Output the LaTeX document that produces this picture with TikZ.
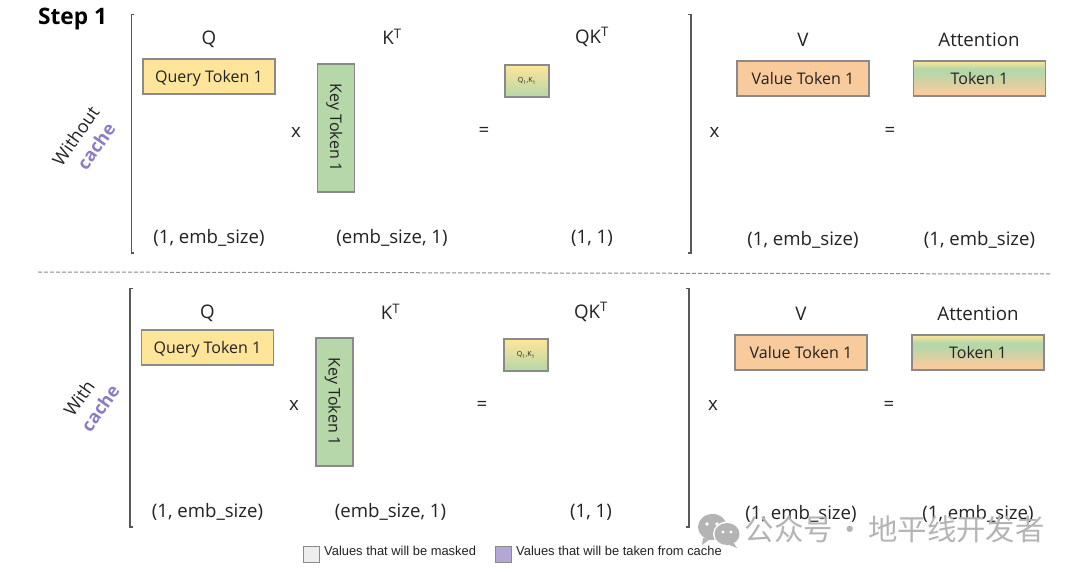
\documentclass[tikz,border=0pt]{standalone}
\usepackage{fontspec}
\setmainfont{Open Sans}
\newfontfamily\cjkwm{Noto Sans CJK SC}
\newfontfamily\legendfont{Liberation Sans}
\usetikzlibrary{calc}
\definecolor{qy}{HTML}{FFE599}
\definecolor{kg}{HTML}{B6D7A8}
\definecolor{vo}{HTML}{F9CB9C}
\definecolor{pur}{HTML}{8E7CC3}
\definecolor{lpur}{HTML}{B4A7D6}
\definecolor{edge}{HTML}{8A8A8A}
\definecolor{ink}{HTML}{222222}
\definecolor{brk}{HTML}{595959}
\definecolor{wm}{HTML}{B4B4B4}
\pgfdeclareverticalshading{qkshade}{100bp}{color(0bp)=(kg); color(25bp)=(kg); color(75bp)=(qy); color(100bp)=(qy)}
\pgfdeclareverticalshading{attshade}{100bp}{color(0bp)=(vo); color(30bp)=(vo); color(58bp)=(kg); color(64bp)=(kg); color(75bp)=(qy); color(100bp)=(qy)}
\tikzset{
  x=1pt,y=-1pt,
  lab/.style={font=\fontsize{18.7}{20}\selectfont,text=ink,inner sep=0pt,anchor=center},
  dim/.style={font=\fontsize{18.6}{21}\selectfont,text=ink,inner sep=0pt,anchor=center},
  op/.style={font=\fontsize{18.7}{20}\selectfont,text=ink,inner sep=0pt,anchor=center},
  tok/.style={draw=edge,line width=1.2pt,minimum width=132pt,minimum height=35pt,inner sep=0pt,font=\fontsize{16}{18}\selectfont,text=ink,anchor=center},
  evenline/.style={text height=12pt,text depth=0pt},
  keytok/.style={tok,evenline,fill=kg,rotate=-90,minimum width=128pt,minimum height=37pt},
  qk/.style={draw=edge,line width=1.2pt,minimum width=44pt,minimum height=32pt,inner sep=0pt,shading=qkshade,font=\fontsize{7}{8}\selectfont,text=ink,anchor=center},
  att/.style={tok,shading=attshade},
  brack/.style={draw=brk,line width=1.7pt},
  side/.style={font=\fontsize{18}{20}\selectfont,text=ink,rotate=55,inner sep=0pt,anchor=center},
  sidec/.style={side,text=pur,font=\fontsize{18}{20}\selectfont\bfseries},
  legbox/.style={draw=edge,line width=1pt,minimum width=16pt,minimum height=16pt,inner sep=0pt,anchor=center},
  legtxt/.style={font=\legendfont\fontsize{12.9}{14}\selectfont,text=ink,inner sep=0pt,anchor=west},
}
\begin{document}
\begin{tikzpicture}
\useasboundingbox (0,0) rectangle (1080,572);
\fill[white] (0,0) rectangle (1080,572);

\node[font=\fontsize{22.7}{25}\selectfont\bfseries,text=black,inner sep=0pt] (step) at (72.5,19) {Step 1};

% Without cache
\node[side] (wo) at (75.5,136) {Without};
\node[sidec] (woc) at (96,146) {cache};
\draw[brack] (134,14.5) -- (131.5,14.5) -- (131.5,253) -- (134,253);
\draw[brack] (688,14.5) -- (691,14.5) -- (691,253) -- (688,253);
\node[lab] (q1) at (209,39) {Q};
\node[lab] (k1) at (392,37) {K\textsuperscript{T}};
\node[lab] (qk1) at (592,37) {QK\textsuperscript{T}};
\node[lab] (v1) at (803,40) {V};
\node[lab] (a1) at (979,40) {Attention};
\node[tok,evenline,fill=qy] (qt1) at (209,76.5) {Query Token 1};
\node[keytok] (kt1) at (336,128) {Key Token 1};
\node[qk] (qkt1) at (527,81) {Q\textsubscript{1},K\textsubscript{1}};
\node[tok,fill=vo] (vt1) at (803,78.5) {Value Token 1};
\node[att] (at1) at (979.5,78.5) {Token 1};
\node[op] (x1a) at (296,132) {x};
\node[op] (e1a) at (484,132) {=};
\node[op] (x1b) at (714.5,132) {x};
\node[op] (e1b) at (890,132) {=};
\node[dim] (d1a) at (209,238) {(1, emb\_size)};
\node[dim] (d1b) at (392,238) {(emb\_size, 1)};
\node[dim] (d1c) at (592,238) {(1, 1)};
\node[dim] (d1d) at (803,240) {(1, emb\_size)};
\node[dim] (d1e) at (979.5,240) {(1, emb\_size)};

\draw[edge,line width=1pt,dash pattern=on 4pt off 2pt] (38,272) -- (1051,274);

% With cache
\node[side] (wi) at (79,398) {With};
\node[sidec] (wic) at (100,408) {cache};
\draw[brack] (132.5,288.5) -- (130,288.5) -- (130,527) -- (132.5,527);
\draw[brack] (686,288.5) -- (689,288.5) -- (689,527) -- (686,527);
\node[lab] (q2) at (207.5,313) {Q};
\node[lab] (k2) at (390.5,312) {K\textsuperscript{T}};
\node[lab] (qk2) at (591,312) {QK\textsuperscript{T}};
\node[lab] (v2) at (801,314) {V};
\node[lab] (a2) at (978,314) {Attention};
\node[tok,evenline,fill=qy] (qt2) at (207.5,347.5) {Query Token 1};
\node[keytok] (kt2) at (334.5,402) {Key Token 1};
\node[qk] (qkt2) at (526,355) {Q\textsubscript{1},K\textsubscript{1}};
\node[tok,fill=vo] (vt2) at (801,352.5) {Value Token 1};
\node[att] (at2) at (978,352.5) {Token 1};
\node[op] (x2a) at (294,405) {x};
\node[op] (e2a) at (482,406) {=};
\node[op] (x2b) at (713,405) {x};
\node[op] (e2b) at (889,406) {=};
\node[dim] (d2a) at (207.5,512) {(1, emb\_size)};
\node[dim] (d2b) at (390.5,512) {(emb\_size, 1)};
\node[dim] (d2c) at (591,512) {(1, 1)};
\node[dim] (d2d) at (801,514) {(1, emb\_size)};
\node[dim] (d2e) at (978,514) {(1, emb\_size)};

% Legend
\node[legbox,fill=black!7] (lg1) at (311,554) {};
\node[legtxt] (lt1) at (324,551) {Values that will be masked};
\node[legbox,fill=lpur] (lg2) at (503,554) {};
\node[legtxt] (lt2) at (516,551) {Values that will be taken from cache};

% Watermark
\fill[wm] (712.5,527) ellipse (14.5 and 13);
\fill[wm] (703,538) -- (702,545) -- (710,539) -- cycle;
\fill[white] (727,534) ellipse (14 and 12.5);
\fill[wm] (727,534) ellipse (12.5 and 11);
\fill[wm] (733,542) -- (737,548) -- (727,544) -- cycle;
\fill[white] (707,524) circle (1.9) (717,524) circle (1.9) (723,532) circle (1.6) (731,532) circle (1.6);
\node[font=\cjkwm\fontsize{29.4}{32}\selectfont,text=wm,inner sep=0pt,anchor=west] (wmt) at (744.5,529) {公众号\hspace{3pt}·\hspace{3pt}地平线开发者};
\end{tikzpicture}
\end{document}
